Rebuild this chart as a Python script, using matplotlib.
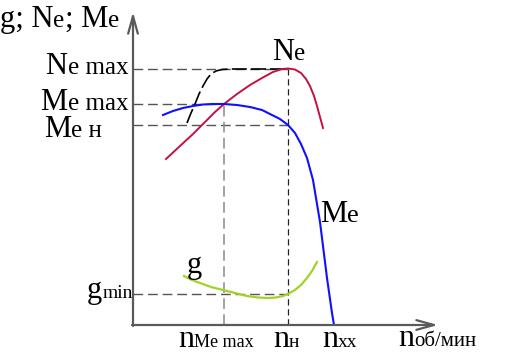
import matplotlib
matplotlib.use("Agg")
import matplotlib.pyplot as plt

W, H = 507, 354

# curves, in arbitrary units (n along x, value along y)
ne_n = [33, 47, 60, 72, 82, 91, 104, 117, 129, 140, 149, 155, 162, 168, 173, 177, 181, 184, 187, 190]
ne_v = [166, 179, 191, 203, 213, 221, 231, 240, 247, 253, 256, 256.5, 255.5, 252, 246, 239, 229, 219, 208, 197]

me_n = [30, 40, 50, 60, 70, 80, 91, 104, 117, 129, 139, 147, 155, 162, 168, 174, 180, 187, 194, 199, 201]
me_v = [210, 214, 217, 219, 220.5, 221, 221, 220, 218, 215, 210, 206, 200, 192, 181, 167, 145, 103, 47, 12, 0]

g_n = [51, 59, 67, 78, 90, 102, 114, 125, 134, 143, 150, 155, 162, 168, 174, 179, 184]
g_v = [49, 45, 42, 38, 35, 32, 29, 27.5, 27, 27.5, 29, 31, 35, 40, 47, 54, 63]

lim_n = [54, 58, 62, 66, 70, 74, 78, 83, 89, 97, 155]
lim_v = [202, 212, 221, 231, 239, 246, 251, 254, 255.5, 256, 256]

# characteristic points
n_memax = 91
n_nom = 155
n_xx = 201
ne_max = 256
me_max = 221
me_nom = 200
g_min = 31

plt.rcParams['font.family'] = ['Liberation Serif', 'DejaVu Serif']

fig = plt.figure(figsize=(W / 100, H / 100), dpi=100)
ax = fig.add_axes([133 / W, 29 / H, 307 / W, 311 / H])
ax.set_xlim(0, 307)
ax.set_ylim(0, 311)
ax.axis('off')

# axes with arrows
axc = '#5a5a5a'
ax.annotate('', xy=(305, 0), xytext=(-1, 0),
            arrowprops=dict(arrowstyle='->,head_length=0.9,head_width=0.25',
                            color=axc, lw=1.6, mutation_scale=14, shrinkA=0, shrinkB=0),
            annotation_clip=False)
ax.annotate('', xy=(0, 313), xytext=(0, -1),
            arrowprops=dict(arrowstyle='->,head_length=0.9,head_width=0.25',
                            color=axc, lw=1.6, mutation_scale=14, shrinkA=0, shrinkB=0),
            annotation_clip=False)

# dashed guide lines
dk = dict(lw=1.0, dashes=(7, 3.5))
ax.plot([0, n_nom], [ne_max, ne_max], color='#555555', **dk)
ax.plot([0, n_memax], [me_max, me_max], color='#555555', **dk)
ax.plot([0, n_nom], [me_nom, me_nom], color='#555555', **dk)
ax.plot([0, n_nom], [g_min, g_min], color='#555555', **dk)
ax.plot([n_memax, n_memax], [0, me_max], color='#8a8a8a', lw=1.1, dashes=(7, 3.5))
ax.plot([n_nom, n_nom], [0, ne_max], color='#222222', lw=0.9, dashes=(5, 3))

# curves
ax.plot(lim_n, lim_v, color='black', lw=1.2, dashes=(9, 2.5))
ax.plot(ne_n, ne_v, color='#c4123f', lw=1.4)
ax.plot(me_n, me_v, color='#1010ff', lw=1.5)
ax.plot(g_n, g_v, color='#a0d22a', lw=1.6)

fig.canvas.draw()
r = fig.canvas.get_renderer()


def label(x, y, pieces, align='left'):
    # x, y: picture pixels from top-left, y is the baseline
    texts = []
    cx = x
    for s, size in pieces:
        t = fig.text(cx / W, 1 - y / H, s, fontsize=size, va='baseline', ha='left')
        bb = t.get_window_extent(r)
        cx = bb.x1
        texts.append(t)
    if align == 'right':
        shift = x - cx
        for t in texts:
            px, py = t.get_position()
            t.set_position((px + shift / W, py))


label(0, 27, [('g; N', 22), ('e', 18), ('; M', 22), ('e', 18)])
label(128, 74, [('N', 22), ('e max', 18)], align='right')
label(128, 110, [('M', 22), ('e max', 18)], align='right')
label(44, 137, [('M', 22), ('e н', 18)])
label(87, 298, [('g', 22), ('min', 14)])
label(187, 273, [('g', 22)])
label(272, 60, [('N', 22), ('e', 18)])
label(320, 222, [('M', 22), ('e', 19)])
label(178, 347, [('n', 23), ('Me max', 13)])
label(273, 347, [('n', 23), ('н', 14)])
label(322, 347, [('n', 23), ('xx', 14)])
label(398, 346, [('n', 23), ('об/мин', 15)])

fig.savefig('out.png', dpi=100)
